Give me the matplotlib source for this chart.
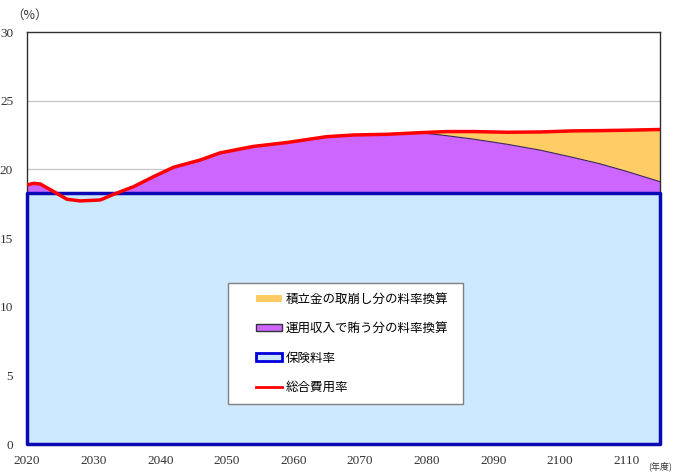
import numpy as np
import matplotlib
matplotlib.use("Agg")
import matplotlib.pyplot as plt
from matplotlib.patches import Patch, Rectangle
from matplotlib.lines import Line2D

# ---- data ----
years = [2020, 2021, 2022, 2024, 2026, 2028, 2031, 2033, 2036, 2039, 2042, 2046,
         2049, 2054, 2059, 2065, 2069, 2074, 2079, 2083, 2087, 2092, 2097, 2102,
         2106, 2110, 2115]
total_cost = [18.86, 18.98, 18.93, 18.38, 17.82, 17.70, 17.77, 18.18, 18.74, 19.47,
              20.15, 20.68, 21.20, 21.67, 21.95, 22.38, 22.50, 22.55, 22.67, 22.75,
              22.75, 22.70, 22.72, 22.80, 22.82, 22.85, 22.90]
income_top = [18.86, 18.98, 18.93, 18.38, 17.82, 17.70, 17.77, 18.18, 18.74, 19.47,
              20.15, 20.68, 21.20, 21.67, 21.95, 22.38, 22.50, 22.55, 22.67, 22.45,
              22.20, 21.83, 21.40, 20.86, 20.40, 19.85, 19.10]
insurance_rate = 18.3
xticks = [2020, 2030, 2040, 2050, 2060, 2070, 2080, 2090, 2100, 2110]
yticks = [0, 5, 10, 15, 20, 25, 30]
labels = ["積立金の取崩し分の料率換算", "運用収入で賄う分の料率換算", "保険料率", "総合費用率"]

c_orange = "#FFCC66"
c_purple = "#CC66FF"
c_lblue = "#CCE9FF"
c_blue = "#0A0AB4"
c_red = "#FF0000"

x = np.array(years, dtype=float)
tot = np.array(total_cost)
inc = np.array(income_top)
ins = np.full_like(x, insurance_rate)

fig = plt.figure(figsize=(6.75, 4.73), dpi=100)
ax = fig.add_axes([27/675, 1-444/473, 633/675, 412/473])

ax.set_xlim(2020, 2115)
ax.set_ylim(0, 30)

# grid
for yv in yticks[1:-1]:
    ax.axhline(yv, color="#C8C8C8", lw=1, zorder=0)

# orange: reserve drawdown
ax.fill_between(x, inc, tot, where=tot >= inc, facecolor=c_orange, edgecolor="none", zorder=1)
# purple: investment income
ax.fill_between(x, ins, inc, where=inc >= ins, interpolate=True, facecolor=c_purple,
                edgecolor="none", zorder=2)
mask = x >= 2079
ax.plot(x[mask], inc[mask], color="#3A2A5A", lw=0.8, zorder=3)
# blue: insurance rate
ax.fill_between(x, 0, ins, facecolor=c_lblue, edgecolor=c_blue, linewidth=2.5, zorder=4,
                clip_on=False)
# red: total cost
ax.plot(x, tot, color=c_red, lw=2.5, zorder=6, solid_capstyle="butt")

# axes styling
for s in ["top", "right", "left"]:
    ax.spines[s].set_color("#303030")
    ax.spines[s].set_linewidth(1)
ax.spines["bottom"].set_visible(False)
ax.set_xticks(xticks)
ax.set_yticks(yticks)
ax.set_xticklabels([str(v) for v in xticks], family="Liberation Serif", fontsize=9.5)
ax.set_yticklabels([str(v) for v in yticks], family="Liberation Serif", fontsize=9.5)
ax.tick_params(axis="x", direction="in", length=3, width=1, color="#303060", pad=8)
ax.tick_params(axis="y", length=0, pad=10)
for t in ax.get_xticklabels() + ax.get_yticklabels():
    t.set_color("#333333")

fig.text(11/675, 1-15/473, "（%）", family=["Noto Sans CJK JP", "DejaVu Sans"],
         fontsize=9, va="center", ha="left", color="#333333")
fig.text(648/675, 1-466/473, "(年度)", family=["Noto Sans CJK JP", "DejaVu Sans"],
         fontsize=6.5, va="center", ha="left", color="#333333")

# legend frame
ax.add_patch(Rectangle(((228-27)/633, (444-404)/412), (463-228)/633, (404-283)/412,
                       transform=ax.transAxes, facecolor="white", edgecolor="#808080",
                       lw=1, zorder=8))
handles = [Patch(facecolor=c_orange, edgecolor="none"),
           Patch(facecolor=c_purple, edgecolor="#333333", lw=1),
           Patch(facecolor=c_lblue, edgecolor="#0000DD", lw=2),
           Line2D([0], [0], color=c_red, lw=2)]
leg = ax.legend(handles, labels, loc="upper left",
                bbox_to_anchor=((256-27)/633, (444-293)/412),
                frameon=False, borderpad=0, borderaxespad=0, handlelength=2.1,
                handleheight=0.5, handletextpad=0.3, labelspacing=1.3,
                prop={"family": ["Noto Sans CJK JP", "DejaVu Sans"], "size": 9})
leg.set_zorder(9)

fig.savefig("out.png", dpi=100)
